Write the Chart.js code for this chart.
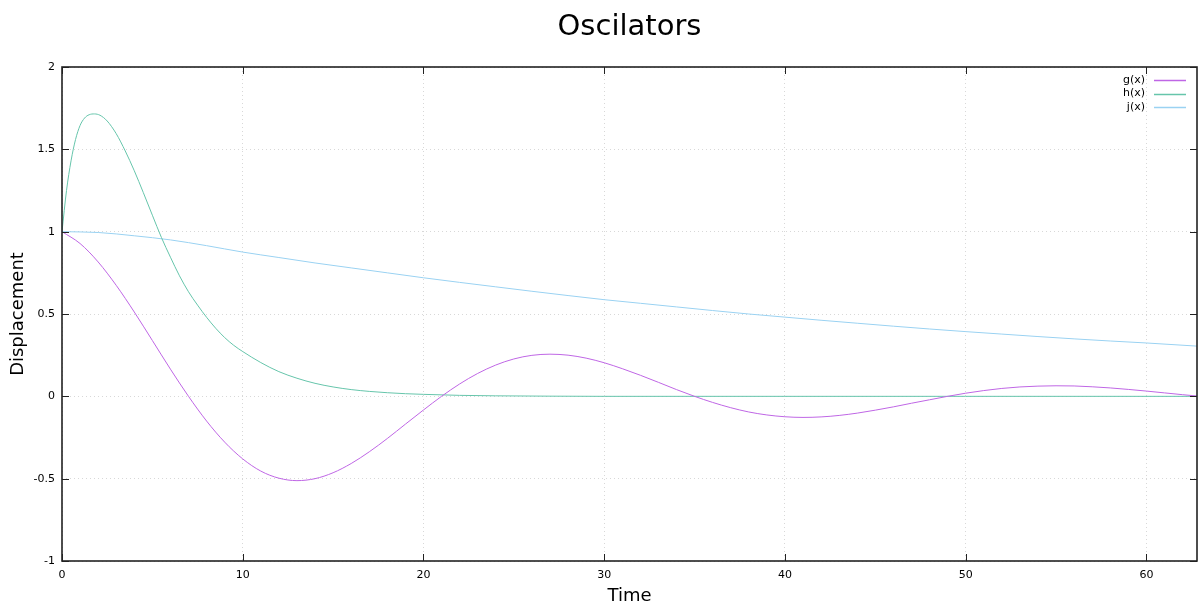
<!DOCTYPE html>
<html>
<head>
<meta charset="utf-8">
<script src="https://cdn.jsdelivr.net/npm/chart.js@4/dist/chart.umd.min.js"></script>
<style>
  html, body { margin: 0; padding: 0; background: #fff; }
  #wrap { width: 1198px; height: 604px; }
</style>
</head>
<body>
<div id="wrap"><canvas id="chart" width="1198" height="604"></canvas></div>
<script>
// values
const gTime = [0, 1, 2, 3, 4, 5, 6, 7, 8, 9, 10, 11, 12, 13, 14, 15, 16, 17, 18, 19, 20,
  21, 22, 23, 24, 25, 26, 27, 28, 29, 30, 31, 32, 33, 34, 35, 36, 37, 38, 39, 40,
  41, 42, 43, 44, 45, 46, 47, 48, 49, 50, 51, 52, 53, 54, 55, 56, 57, 58, 59, 60, 61, 62, 62.8];
const gValues = [1.000, 0.928, 0.816, 0.674, 0.512, 0.339, 0.165, 0.000, -0.150, -0.278, -0.380,
  -0.454, -0.497, -0.512, -0.500, -0.464, -0.408, -0.337, -0.256, -0.169, -0.083,
  0.000, 0.075, 0.139, 0.190, 0.227, 0.249, 0.256, 0.250, 0.232, 0.204,
  0.168, 0.128, 0.085, 0.041, 0.000, -0.037, -0.069, -0.095, -0.113, -0.124,
  -0.128, -0.125, -0.116, -0.102, -0.084, -0.064, -0.042, -0.021, 0.000, 0.019,
  0.035, 0.048, 0.057, 0.062, 0.064, 0.063, 0.058, 0.051, 0.042, 0.032, 0.021, 0.010, 0.002];

const hTime = [0, 0.25, 0.5, 0.75, 1, 1.25, 1.5, 1.8, 2.1, 2.5, 3, 3.5, 4, 4.5, 5, 5.5, 6, 6.5, 7, 7.5, 8,
  8.5, 9, 9.5, 10, 11, 12, 13, 14, 15, 16, 17, 18, 19, 20, 22, 24, 27, 30, 40, 50, 62.8];
const hValues = [1.000, 1.250, 1.430, 1.560, 1.645, 1.690, 1.710, 1.715, 1.707, 1.672, 1.595, 1.490, 1.370, 1.237, 1.100, 0.965, 0.845, 0.732, 0.635, 0.554, 0.480,
  0.414, 0.357, 0.310, 0.272, 0.205, 0.150, 0.110, 0.079, 0.057, 0.041, 0.030, 0.022, 0.016, 0.012, 0.006, 0.003, 0.001, 0, 0, 0, 0];

const jTime = [0, 2, 4, 6, 8, 10, 12, 14, 16, 18, 20, 22, 24, 26, 28, 30, 32, 34, 36, 38, 40,
  42, 44, 46, 48, 50, 52, 54, 56, 58, 60, 62.8];
const jValues = [1.000, 0.995, 0.975, 0.950, 0.915, 0.876, 0.843, 0.810, 0.780, 0.750, 0.720,
  0.692, 0.665, 0.638, 0.612, 0.587, 0.565, 0.543, 0.521, 0.500, 0.481,
  0.462, 0.444, 0.426, 0.409, 0.393, 0.378, 0.363, 0.349, 0.336, 0.324, 0.305];

const xTicks = [0, 10, 20, 30, 40, 50, 60];
const yTicks = [-1, -0.5, 0, 0.5, 1, 1.5, 2];

const seriesNames = ['g(x)', 'h(x)', 'j(x)'];
const seriesColors = ['#bf66e5', '#66c5ab', '#9ad2f2'];

const FONT = 'DejaVu Sans';

function pts(xs, ys) {
  return xs.map((x, i) => ({ x: x, y: ys[i] }));
}

// title over the plot, frame, inward ticks on all four sides, legend inside the plot
const gnuplotFrame = {
  id: 'gnuplotFrame',
  afterDraw(chart) {
    const { ctx, chartArea: a, scales } = chart;
    ctx.save();

    ctx.fillStyle = '#000';
    ctx.font = '29px "' + FONT + '"';
    ctx.textAlign = 'center';
    ctx.textBaseline = 'middle';
    ctx.fillText('Oscilators', (a.left + a.right) / 2, 27.5);

    ctx.strokeStyle = '#222';
    ctx.lineWidth = 1;
    const tl = 7;
    ctx.beginPath();
    xTicks.forEach(v => {
      const px = Math.round(scales.x.getPixelForValue(v)) + 0.5;
      ctx.moveTo(px, a.bottom); ctx.lineTo(px, a.bottom - tl);
      ctx.moveTo(px, a.top); ctx.lineTo(px, a.top + tl);
    });
    yTicks.forEach(v => {
      const py = Math.round(scales.y.getPixelForValue(v)) + 0.5;
      ctx.moveTo(a.left, py); ctx.lineTo(a.left + tl, py);
      ctx.moveTo(a.right, py); ctx.lineTo(a.right - tl, py);
    });
    ctx.stroke();
    ctx.lineWidth = 1.6;
    ctx.strokeRect(a.left, a.top, a.right - a.left, a.bottom - a.top);

    // legend
    ctx.font = '11px "' + FONT + '"';
    ctx.textAlign = 'right';
    ctx.textBaseline = 'middle';
    chart.data.datasets.forEach((ds, i) => {
      const y = a.top + 13 + i * 13.5;
      ctx.fillStyle = '#000';
      ctx.fillText(ds.label, 1145, y);
      ctx.strokeStyle = ds.borderColor;
      ctx.lineWidth = 1.5;
      ctx.beginPath();
      ctx.moveTo(1154, Math.round(y) + 0.5);
      ctx.lineTo(1186, Math.round(y) + 0.5);
      ctx.stroke();
    });
    ctx.restore();
  }
};

new Chart(document.getElementById('chart'), {
  type: 'line',
  data: {
    datasets: [
      { label: seriesNames[0], data: pts(gTime, gValues), borderColor: seriesColors[0] },
      { label: seriesNames[1], data: pts(hTime, hValues), borderColor: seriesColors[1] },
      { label: seriesNames[2], data: pts(jTime, jValues), borderColor: seriesColors[2] }
    ]
  },
  options: {
    responsive: false,
    animation: false,
    layout: { padding: { left: 0, right: 1, top: 67, bottom: 0 } },
    elements: {
      point: { radius: 0 },
      line: { borderWidth: 1, cubicInterpolationMode: 'monotone', fill: false }
    },
    plugins: {
      legend: { display: false },
      tooltip: { enabled: false },
      title: { display: false }
    },
    scales: {
      x: {
        type: 'linear',
        min: 0,
        max: 62.8,
        afterFit(scale) { scale.height = 43; },
        afterBuildTicks(scale) { scale.ticks = xTicks.map(v => ({ value: v })); },
        ticks: {
          color: '#000', font: { family: FONT, size: 11 }, padding: 8, maxRotation: 0,
          callback: v => String(v)
        },
        grid: { drawTicks: false, color: '#d8d8d8', lineWidth: 1 },
        border: { display: false, dash: [1, 3] },
        title: {
          display: true, text: 'Time', color: '#000',
          font: { family: FONT, size: 18, lineHeight: 0.8 },
          padding: { top: 0, bottom: 0 }
        }
      },
      y: {
        type: 'linear',
        min: -1,
        max: 2,
        afterFit(scale) { scale.width = 62; },
        afterBuildTicks(scale) { scale.ticks = yTicks.map(v => ({ value: v })); },
        ticks: {
          color: '#000', font: { family: FONT, size: 11 }, padding: 7,
          callback: v => String(v)
        },
        grid: { drawTicks: false, color: '#d8d8d8', lineWidth: 1 },
        border: { display: false, dash: [1, 3] },
        title: {
          display: true, text: 'Displacement', color: '#000',
          font: { family: FONT, size: 18, lineHeight: 1 },
          padding: { top: 9, bottom: 9 }
        }
      }
    }
  },
  plugins: [gnuplotFrame]
});
</script>
</body>
</html>
